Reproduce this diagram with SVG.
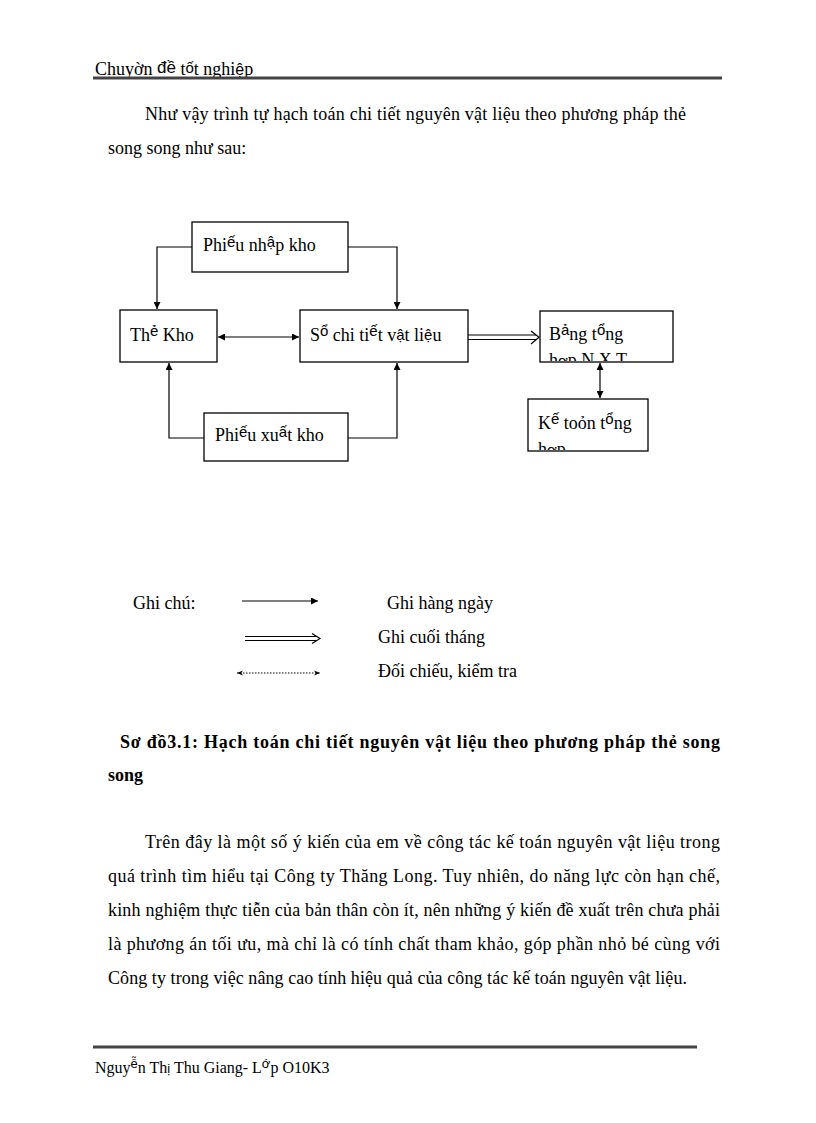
<svg xmlns="http://www.w3.org/2000/svg" width="816" height="1123" viewBox="0 0 816 1123">
<style>
.t{font-family:"Liberation Serif","Times New Roman",serif;font-size:18px;fill:#000}
.s{font-family:"Liberation Sans",Arial,sans-serif}
.b{font-weight:bold}
.box{fill:#fff;stroke:#000;stroke-width:1.3}
.ln{fill:none;stroke:#000;stroke-width:1.2}
.dot{fill:none;stroke:#000;stroke-width:1;stroke-dasharray:1.5 1.5}
.rule{stroke:#444;stroke-width:3}
</style>
<defs>
<marker id="ah" viewBox="0 0 10 10" refX="10" refY="5" markerWidth="7" markerHeight="7" markerUnits="userSpaceOnUse" orient="auto-start-reverse">
<path d="M0,0 L10,5 L0,10 z" fill="#000"/>
</marker>
<marker id="ahs" viewBox="0 0 10 10" refX="10" refY="5" markerWidth="6" markerHeight="6" markerUnits="userSpaceOnUse" orient="auto-start-reverse">
<path d="M0,1 L10,5 L0,9 L3,5 z" fill="#000"/>
</marker>
<clipPath id="c1"><rect x="540" y="311" width="133" height="50"/></clipPath>
<clipPath id="c2"><rect x="528" y="399" width="120" height="51"/></clipPath>
</defs>
<rect width="816" height="1123" fill="#fff"/>

<!-- header -->
<text class="t" x="95" y="75">Chuyờn <tspan class="s" font-size="17" dy="-2">đề</tspan><tspan dy="2"> t</tspan><tspan class="s" font-size="15" dy="-2">ố</tspan><tspan dy="2">t nghi</tspan><tspan class="s" font-size="16">ệ</tspan>p</text>
<line class="rule" x1="93" y1="78" x2="722" y2="78"/>

<text class="t" x="145" y="120" textLength="541" lengthAdjust="spacing">Như vậy trình tự hạch toán chi tiết nguyên vật liệu  theo phương pháp thẻ</text>
<text class="t" x="108" y="154">song song như sau:</text>

<!-- connectors -->
<g id="connectors">
<polyline class="ln" points="192,247 157,247 157,309" marker-end="url(#ah)"/>
<polyline class="ln" points="348,247 397,247 397,309" marker-end="url(#ah)"/>
<line class="ln" x1="218" y1="337" x2="299" y2="337" marker-start="url(#ah)" marker-end="url(#ah)"/>
<polyline class="ln" points="204,438 169,438 169,363" marker-end="url(#ah)"/>
<polyline class="ln" points="348,438 397,438 397,363" marker-end="url(#ah)"/>
<line class="ln" x1="468" y1="335" x2="536" y2="335"/>
<line class="ln" x1="468" y1="339.5" x2="536" y2="339.5"/>
<polyline class="ln" points="531,331 539,337.3 531,344" stroke-width="1.6"/>
<line class="ln" x1="600" y1="363" x2="600" y2="398" marker-start="url(#ah)" marker-end="url(#ah)"/>
</g>

<!-- nodes -->
<g id="phieu-nhap">
<rect class="box" x="192" y="222" width="156" height="50"/>
<text class="t" x="203" y="251">Phi<tspan class="s" font-size="15" dy="-4">ế</tspan><tspan dy="4">u nh</tspan><tspan class="s" font-size="15" dy="-4">ậ</tspan><tspan dy="4">p kho</tspan></text>
</g>
<g id="the-kho">
<rect class="box" x="120" y="310" width="97" height="52"/>
<text class="t" x="130" y="341">Th<tspan class="s" font-size="15" dy="-5">ẻ</tspan><tspan dy="5"> Kho</tspan></text>
</g>
<g id="so-chi-tiet">
<rect class="box" x="300" y="310" width="168" height="52"/>
<text class="t" x="310" y="341">S<tspan class="s" font-size="15" dy="-5">ổ</tspan><tspan dy="5"> chi ti</tspan><tspan class="s" font-size="15" dy="-5">ế</tspan><tspan dy="5">t v</tspan><tspan class="s" font-size="15" dy="-1">ậ</tspan><tspan dy="1">t li</tspan><tspan class="s" font-size="15" dy="-1">ệ</tspan><tspan dy="1">u</tspan></text>
</g>
<g id="phieu-xuat">
<rect class="box" x="204" y="413" width="144" height="48"/>
<text class="t" x="215" y="441">Phi<tspan class="s" font-size="15" dy="-4">ế</tspan><tspan dy="4">u xu</tspan><tspan class="s" font-size="15" dy="-4">ấ</tspan><tspan dy="4">t kho</tspan></text>
</g>
<g id="bang-tong-hop">
<rect class="box" x="540" y="311" width="133" height="51"/>
<g clip-path="url(#c1)">
<text class="t" x="549" y="340">B<tspan class="s" font-size="15" dy="-5">ả</tspan><tspan dy="5">ng t</tspan><tspan class="s" font-size="15" dy="-5">ổ</tspan><tspan dy="5">ng</tspan></text>
<text class="t" x="549" y="366">h<tspan class="s" font-size="15">ơ</tspan>p N X T</text>
</g>
</g>
<g id="ke-toan-tong-hop">
<rect class="box" x="528" y="399" width="120" height="52"/>
<g clip-path="url(#c2)">
<text class="t" x="538" y="429">K<tspan class="s" font-size="15" dy="-5">ế</tspan><tspan dy="5"> toỏn t</tspan><tspan class="s" font-size="15" dy="-5">ổ</tspan><tspan dy="5">ng</tspan></text>
<text class="t" x="538" y="455">h<tspan class="s" font-size="15">ơ</tspan>p</text>
</g>
</g>

<!-- legend -->
<g id="legend">
<text class="t" x="133" y="609">Ghi chú:</text>
<line class="ln" x1="242" y1="601" x2="318" y2="601" marker-end="url(#ah)"/>
<text class="t" x="387" y="609">Ghi hàng ngày</text>
<line class="ln" x1="245" y1="636.5" x2="316" y2="636.5"/>
<line class="ln" x1="245" y1="640.5" x2="316" y2="640.5"/>
<polyline class="ln" points="312,633.5 320,638.5 312,643.5" stroke-width="1.6"/>
<text class="t" x="378" y="643">Ghi cuối tháng</text>
<line class="dot" x1="237" y1="673" x2="320" y2="673" marker-start="url(#ahs)" marker-end="url(#ahs)"/>
<text class="t" x="378" y="677">Đối chiếu, kiểm tra</text>
</g>

<text class="t b" x="120" y="748" textLength="600" lengthAdjust="spacing">Sơ đồ3.1: Hạch toán chi tiết nguyên vật liệu theo phương pháp thẻ song</text>
<text class="t b" x="108" y="781">song</text>

<text class="t" x="145" y="848" textLength="575" lengthAdjust="spacing">Trên đây là một số ý kiến của em về công tác kế toán nguyên vật liệu  trong</text>
<text class="t" x="108" y="882" textLength="612" lengthAdjust="spacing">quá trình tìm hiểu tại Công ty Thăng Long. Tuy nhiên,  do năng lực còn hạn chế,</text>
<text class="t" x="108" y="916" textLength="612" lengthAdjust="spacing">kinh nghiệm thực tiễn của bản thân còn ít, nên những ý kiến đề xuất trên chưa phải</text>
<text class="t" x="108" y="950" textLength="612" lengthAdjust="spacing">là phương án tối ưu, mà chỉ là có tính chất tham khảo, góp phần nhỏ bé cùng với</text>
<text class="t" x="108" y="984" textLength="579" lengthAdjust="spacing">Công ty trong việc nâng cao tính hiệu quả của công tác kế toán nguyên vật liệu.</text>

<!-- footer -->
<line class="rule" x1="93" y1="1047" x2="697" y2="1047"/>
<text class="t" x="95" y="1073" style="font-size:16px">Nguy<tspan class="s" font-size="13" dy="-5">ễ</tspan><tspan dy="5">n Th</tspan><tspan class="s" font-size="13">ị</tspan> Thu Giang- L<tspan class="s" font-size="13" dy="-5">ớ</tspan><tspan dy="5">p O10K3</tspan></text>
</svg>
